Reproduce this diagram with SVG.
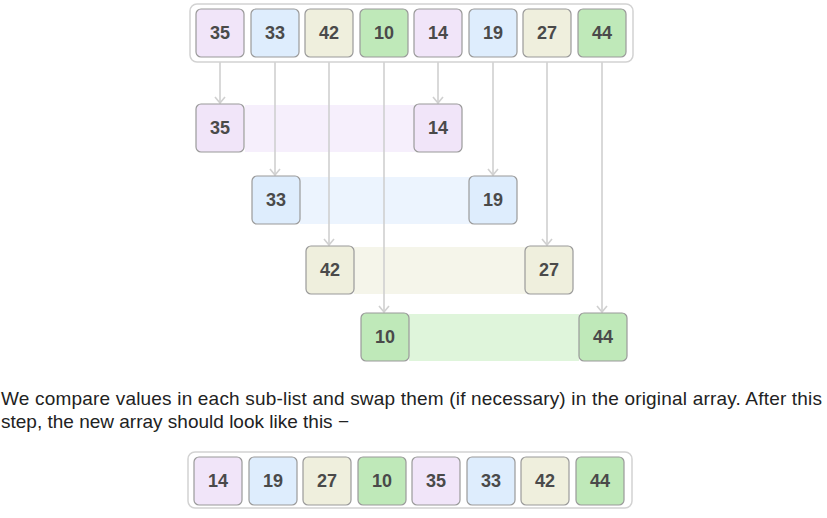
<svg xmlns="http://www.w3.org/2000/svg" width="827" height="518" viewBox="0 0 827 518">
<defs>
<style>
.outer{fill:#fff;stroke:#d2d2d2;stroke-width:1.5}
.c{stroke:#9a9a9a;stroke-width:1.2}
.p{fill:#f1e5f9}
.b{fill:#deedfd}
.y{fill:#efefdd}
.g{fill:#bfe9b9}
.num{font-family:"Liberation Sans",Arial,sans-serif;font-weight:bold;font-size:18px;fill:#4a4a4a;text-anchor:middle}
.line{stroke:#d0d0d0;stroke-width:1.6;fill:none}
.para{font-family:"Liberation Sans",Arial,sans-serif;font-size:19px;fill:#222}
</style>
<marker id="ah" viewBox="0 0 12 12" refX="10" refY="6" markerWidth="12" markerHeight="12" markerUnits="userSpaceOnUse" orient="auto">
<path d="M4,1 L10,6 L4,11" fill="none" stroke="#d0d0d0" stroke-width="1.6"/>
</marker>
</defs>
<rect width="827" height="518" fill="#fff"/>

<g id="bands">
<rect x="245" y="105" width="170" height="47" fill="#f6effc"/>
<rect x="300" y="177" width="170" height="47" fill="#ecf4fe"/>
<rect x="354" y="247" width="172" height="47" fill="#f5f5ea"/>
<rect x="409" y="314" width="170" height="47" fill="#dff5db"/>
</g>

<g id="connectors">
<line class="line" x1="220" y1="58" x2="220" y2="103" marker-end="url(#ah)"/>
<line class="line" x1="275" y1="58" x2="275" y2="175" marker-end="url(#ah)"/>
<line class="line" x1="329" y1="58" x2="329" y2="245" marker-end="url(#ah)"/>
<line class="line" x1="384" y1="58" x2="384" y2="312" marker-end="url(#ah)"/>
<line class="line" x1="438" y1="58" x2="438" y2="103" marker-end="url(#ah)"/>
<line class="line" x1="493" y1="58" x2="493" y2="175" marker-end="url(#ah)"/>
<line class="line" x1="547" y1="58" x2="547" y2="245" marker-end="url(#ah)"/>
<line class="line" x1="602" y1="58" x2="602" y2="312" marker-end="url(#ah)"/>
</g>

<g id="top-array">
<rect class="outer" x="190" y="4" width="443" height="58" rx="7"/>
<g id="t35"><rect class="c p" x="196" y="9" width="48" height="48" rx="5"/><text class="num" x="220" y="39">35</text></g>
<g id="t33"><rect class="c b" x="251" y="9" width="48" height="48" rx="5"/><text class="num" x="275" y="39">33</text></g>
<g id="t42"><rect class="c y" x="305" y="9" width="48" height="48" rx="5"/><text class="num" x="329" y="39">42</text></g>
<g id="t10"><rect class="c g" x="360" y="9" width="48" height="48" rx="5"/><text class="num" x="384" y="39">10</text></g>
<g id="t14"><rect class="c p" x="414" y="9" width="48" height="48" rx="5"/><text class="num" x="438" y="39">14</text></g>
<g id="t19"><rect class="c b" x="469" y="9" width="48" height="48" rx="5"/><text class="num" x="493" y="39">19</text></g>
<g id="t27"><rect class="c y" x="523" y="9" width="48" height="48" rx="5"/><text class="num" x="547" y="39">27</text></g>
<g id="t44"><rect class="c g" x="578" y="9" width="48" height="48" rx="5"/><text class="num" x="602" y="39">44</text></g>
</g>

<g id="s35"><rect class="c p" x="196" y="104" width="48" height="48" rx="5"/><text class="num" x="220" y="134">35</text></g>
<g id="s14"><rect class="c p" x="414" y="104" width="48" height="48" rx="5"/><text class="num" x="438" y="134">14</text></g>
<g id="s33"><rect class="c b" x="252" y="176" width="48" height="48" rx="5"/><text class="num" x="276" y="206">33</text></g>
<g id="s19"><rect class="c b" x="469" y="176" width="48" height="48" rx="5"/><text class="num" x="493" y="206">19</text></g>
<g id="s42"><rect class="c y" x="306" y="246" width="48" height="48" rx="5"/><text class="num" x="330" y="276">42</text></g>
<g id="s27"><rect class="c y" x="525" y="246" width="48" height="48" rx="5"/><text class="num" x="549" y="276">27</text></g>
<g id="s10"><rect class="c g" x="361" y="313" width="48" height="48" rx="5"/><text class="num" x="385" y="343">10</text></g>
<g id="s44"><rect class="c g" x="579" y="313" width="48" height="48" rx="5"/><text class="num" x="603" y="343">44</text></g>

<text class="para" x="1" y="405" textLength="821" lengthAdjust="spacing">We compare values in each sub-list and swap them (if necessary) in the original array. After this</text>
<text class="para" x="1" y="428">step, the new array should look like this −</text>

<g id="bottom-array">
<rect class="outer" x="188" y="452" width="444" height="56" rx="7"/>
<g id="b14"><rect class="c p" x="194" y="457" width="48" height="48" rx="5"/><text class="num" x="218" y="487">14</text></g>
<g id="b19"><rect class="c b" x="249" y="457" width="48" height="48" rx="5"/><text class="num" x="273" y="487">19</text></g>
<g id="b27"><rect class="c y" x="303" y="457" width="48" height="48" rx="5"/><text class="num" x="327" y="487">27</text></g>
<g id="b10"><rect class="c g" x="358" y="457" width="48" height="48" rx="5"/><text class="num" x="382" y="487">10</text></g>
<g id="b35"><rect class="c p" x="412" y="457" width="48" height="48" rx="5"/><text class="num" x="436" y="487">35</text></g>
<g id="b33"><rect class="c b" x="467" y="457" width="48" height="48" rx="5"/><text class="num" x="491" y="487">33</text></g>
<g id="b42"><rect class="c y" x="521" y="457" width="48" height="48" rx="5"/><text class="num" x="545" y="487">42</text></g>
<g id="b44"><rect class="c g" x="576" y="457" width="48" height="48" rx="5"/><text class="num" x="600" y="487">44</text></g>
</g>
</svg>
